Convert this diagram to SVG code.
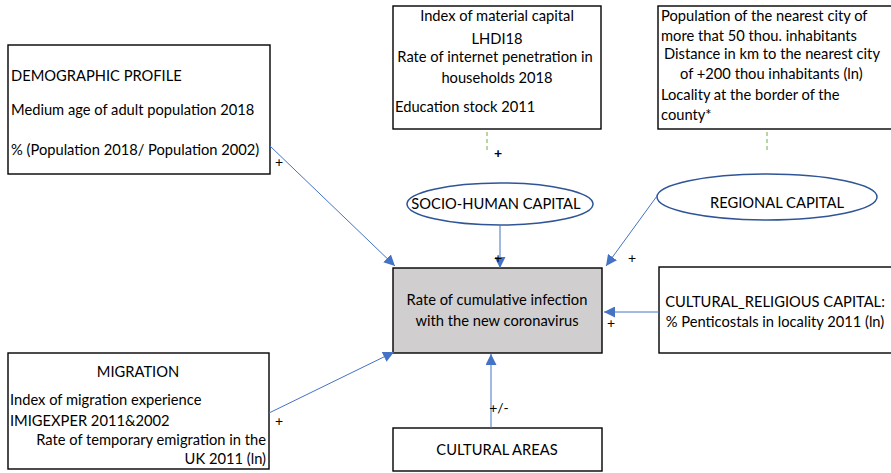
<svg xmlns="http://www.w3.org/2000/svg" width="891" height="473" viewBox="0 0 891 473">
<defs>
<style>
.box{fill:#fff;stroke:#000;stroke-width:1.4}
.ell{fill:#fff;stroke:#2F5597;stroke-width:1.5}
.t{font-family:Lato,"Liberation Sans",Arial,sans-serif;font-size:14.7px;fill:#000}
.c{text-anchor:middle}
.r{text-anchor:end}
.s{font-family:Lato,"Liberation Sans",Arial,sans-serif;font-size:14px;fill:#000;text-anchor:middle}
.ar{stroke:#4472C4;stroke-width:1;fill:none;marker-end:url(#ah)}
.dash{stroke:#70AD47;stroke-width:1;stroke-dasharray:4 3;fill:none}
</style>
<marker id="ah" viewBox="0 0 10 10" refX="10" refY="5" markerWidth="11" markerHeight="11" markerUnits="userSpaceOnUse" orient="auto">
<path d="M0,0 L10,5 L0,10 z" fill="#4472C4"/>
</marker>
</defs>
<rect width="891" height="473" fill="#fff"/>

<g id="demographic">
<rect class="box" x="8" y="45" width="262" height="129"/>
<text class="t" x="11" y="81">DEMOGRAPHIC PROFILE</text>
<text class="t" x="11" y="115">Medium age of adult population 2018</text>
<text class="t" x="11" y="155">% (Population 2018/ Population 2002)</text>
</g>

<g id="socio-human-box">
<rect class="box" x="393" y="6" width="208" height="123"/>
<text class="t c" x="497" y="21">Index of material capital</text>
<text class="t c" x="497" y="44">LHDI18</text>
<text class="t c" x="495" y="62">Rate of internet penetration in</text>
<text class="t c" x="497" y="83">households 2018</text>
<text class="t" x="395" y="112">Education stock 2011</text>
</g>

<g id="regional-box">
<rect class="box" x="658" y="6" width="240" height="123"/>
<text class="t" x="661" y="21">Population of the nearest city of</text>
<text class="t" x="661" y="41">more that 50 thou. inhabitants</text>
<text class="t" x="664" y="59">Distance in km to the nearest city</text>
<text class="t" x="680" y="79">of  +200 thou inhabitants (ln)</text>
<text class="t" x="661" y="100">Locality at the border of the</text>
<text class="t" x="661" y="120">county*</text>
</g>

<g id="socio-human-capital">
<ellipse class="ell" cx="500" cy="204" rx="93" ry="21"/>
<text class="t c" x="496" y="209">SOCIO-HUMAN CAPITAL</text>
</g>

<g id="regional-capital">
<ellipse class="ell" cx="767" cy="197" rx="110" ry="23"/>
<text class="t c" x="777" y="208">REGIONAL CAPITAL</text>
</g>

<g id="infection">
<rect x="393" y="268" width="209" height="85" fill="#D0CECE" stroke="#000" stroke-width="1.4"/>
<text class="t c" x="497" y="305">Rate of cumulative infection</text>
<text class="t c" x="497" y="326">with the new coronavirus</text>
</g>

<g id="cultural-religious">
<rect class="box" x="659" y="267" width="240" height="86"/>
<text class="t c" x="775" y="307">CULTURAL_RELIGIOUS CAPITAL:</text>
<text class="t c" x="775" y="327">% Penticostals in locality 2011 (ln)</text>
</g>

<g id="migration">
<rect class="box" x="8" y="353" width="261" height="116"/>
<text class="t c" x="138" y="377">MIGRATION</text>
<text class="t" x="10" y="405">Index of migration experience</text>
<text class="t" x="10" y="426">IMIGEXPER 2011&amp;2002</text>
<text class="t r" x="266" y="445">Rate of temporary emigration in the</text>
<text class="t r" x="266" y="464">UK 2011 (ln)</text>
</g>

<g id="cultural-areas">
<rect class="box" x="393" y="428" width="209" height="43"/>
<text class="t c" x="497" y="455">CULTURAL AREAS</text>
</g>

<g id="connectors">
<line class="dash" x1="487" y1="132" x2="487" y2="153"/>
<line class="dash" x1="767" y1="132" x2="767" y2="152"/>
<line class="ar" x1="270" y1="146" x2="395" y2="266"/>
<line class="ar" x1="500" y1="225" x2="500" y2="268"/>
<line class="ar" x1="657" y1="196" x2="606" y2="266"/>
<line class="ar" x1="659" y1="312" x2="604" y2="312"/>
<line class="ar" x1="269" y1="413" x2="394" y2="352"/>
<line class="ar" x1="491" y1="428" x2="491" y2="354"/>
</g>

<g id="labels">
<text class="s" x="498" y="158" font-weight="bold">+</text>
<text class="s" x="279" y="167">+</text>
<text class="s" x="498" y="263">+</text>
<text class="s" x="632" y="263">+</text>
<text class="s" x="611" y="328">+</text>
<text class="s" x="279" y="426">+</text>
<text class="s" x="499" y="413">+/-</text>
</g>
</svg>
